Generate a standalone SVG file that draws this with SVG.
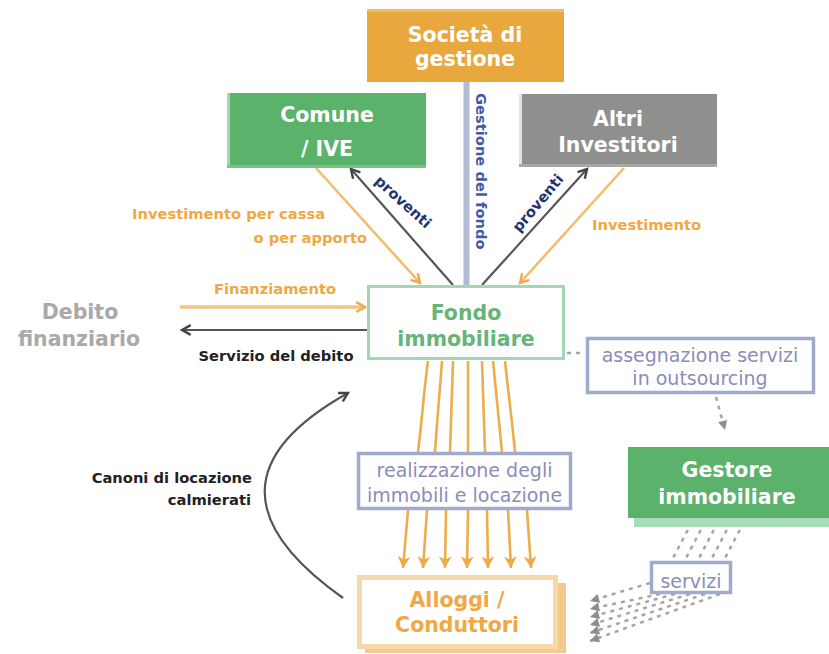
<svg xmlns="http://www.w3.org/2000/svg" width="829" height="654" viewBox="0 0 829 654">
<defs>
<style>
.big{font-family:"DejaVu Sans","Liberation Sans",sans-serif;font-weight:bold;font-size:20.5px;text-anchor:middle}
.sm{font-family:"DejaVu Sans","Liberation Sans",sans-serif;font-weight:bold;font-size:14.7px}
.reg{font-family:"DejaVu Sans","Liberation Sans",sans-serif;font-size:19px;fill:#8C8CB9;text-anchor:middle}
.w{fill:#ffffff}
.org{fill:#EFA845}
.dk{fill:#222222}
.navy{fill:#24346E}
.gline{stroke:#555555;stroke-width:2.2;fill:none}
.oline{stroke:#F2BE6C;stroke-width:2.6;fill:none}
.fan{stroke:#EDAD4B;stroke-width:2.6;fill:none}
.dash{stroke:#A5A5A5;stroke-width:2.5;fill:none;stroke-dasharray:4 5}
.bbox{fill:#ffffff;stroke:#A0AACB;stroke-width:3.5}
</style>
<marker id="chevO" viewBox="0 0 12 12" refX="10" refY="6" markerWidth="13" markerHeight="13" markerUnits="userSpaceOnUse" orient="auto">
<path d="M2,1.5 L10,6 L2,10.5" fill="none" stroke="#EDAA48" stroke-width="2.2"/>
</marker>
<marker id="chevG" viewBox="0 0 12 12" refX="10" refY="6" markerWidth="13" markerHeight="13" markerUnits="userSpaceOnUse" orient="auto">
<path d="M2,1.5 L10,6 L2,10.5" fill="none" stroke="#444444" stroke-width="2.2"/>
</marker>
<marker id="triO" viewBox="0 0 12 12" refX="11" refY="6" markerWidth="14" markerHeight="16" markerUnits="userSpaceOnUse" orient="auto">
<path d="M1,0.5 L11,6 L1,11.5 L4,6 Z" fill="#EDAA48"/>
</marker>
<marker id="triG" viewBox="0 0 12 12" refX="11" refY="6" markerWidth="11" markerHeight="12" markerUnits="userSpaceOnUse" orient="auto">
<path d="M1,1 L11,6 L1,11 Z" fill="#8E8E8E"/>
</marker>
</defs>
<rect width="829" height="654" fill="#ffffff"/>

<g id="connectors">
  <!-- gestione del fondo bar -->
  <line x1="466.5" y1="82" x2="466.5" y2="287" stroke="#B2BAD4" stroke-width="6"/>
  <!-- Comune <-> Fondo -->
  <line class="oline" x1="316" y1="168" x2="420" y2="283" marker-end="url(#chevO)"/>
  <line class="gline" x1="453" y1="285" x2="351" y2="169" marker-end="url(#chevG)"/>
  <!-- Altri <-> Fondo -->
  <line class="gline" x1="482" y1="285" x2="587" y2="169" marker-end="url(#chevG)"/>
  <line class="oline" x1="624" y1="168" x2="520" y2="283" marker-end="url(#chevO)"/>
  <!-- Debito -->
  <line x1="180" y1="307" x2="365" y2="307" stroke="#F3C57E" stroke-width="3.5" marker-end="url(#chevO)"/>
  <line class="gline" x1="367" y1="330" x2="182" y2="330" stroke-width="2.6" marker-end="url(#chevG)"/>
  <!-- Fondo -> assegnazione -->
  <line class="dash" x1="567" y1="353" x2="585" y2="353"/>
  <!-- assegnazione -> Gestore -->
  <path class="dash" d="M716,397 L725,430" marker-end="url(#triG)"/>
  <!-- fan Fondo -> realizzazione -->
  <path class="fan" d="M428,361 C424,390 422,420 418,452"/>
  <path class="fan" d="M442,361 C440,390 437,420 435,452"/>
  <path class="fan" d="M453,361 C452,390 451,420 450,452"/>
  <path class="fan" d="M468,361 L468,452"/>
  <path class="fan" d="M482,361 C483,390 484,420 485,452"/>
  <path class="fan" d="M493,361 C496,390 499,420 502,452"/>
  <path class="fan" d="M505,361 C508,390 512,420 515,452"/>
  <!-- realizzazione -> Alloggi -->
  <line class="fan" x1="408" y1="510" x2="403" y2="568" marker-end="url(#triO)"/>
  <line class="fan" x1="427" y1="510" x2="423" y2="568" marker-end="url(#triO)"/>
  <line class="fan" x1="446" y1="510" x2="445" y2="568" marker-end="url(#triO)"/>
  <line class="fan" x1="468" y1="510" x2="467" y2="568" marker-end="url(#triO)"/>
  <line class="fan" x1="487" y1="510" x2="488" y2="568" marker-end="url(#triO)"/>
  <line class="fan" x1="508" y1="510" x2="511" y2="568" marker-end="url(#triO)"/>
  <line class="fan" x1="527" y1="510" x2="531" y2="568" marker-end="url(#triO)"/>
  <!-- canoni curve -->
  <path class="gline" d="M343,598 Q184,485 348,393" marker-end="url(#chevG)"/>
  <!-- servizi dashed -->
  <line class="dash" x1="692" y1="522" x2="672" y2="560"/>
  <line class="dash" x1="705" y1="522" x2="685" y2="560"/>
  <line class="dash" x1="718" y1="522" x2="698" y2="560"/>
  <line class="dash" x1="731" y1="522" x2="711" y2="560"/>
  <line class="dash" x1="744" y1="522" x2="724" y2="560"/>
  <line class="dash" x1="650" y1="583" x2="590" y2="601" marker-end="url(#triG)"/>
  <line class="dash" x1="660" y1="594" x2="590" y2="609" marker-end="url(#triG)"/>
  <line class="dash" x1="675" y1="594" x2="590" y2="617" marker-end="url(#triG)"/>
  <line class="dash" x1="690" y1="594" x2="590" y2="625" marker-end="url(#triG)"/>
  <line class="dash" x1="705" y1="594" x2="590" y2="633" marker-end="url(#triG)"/>
  <line class="dash" x1="720" y1="594" x2="590" y2="641" marker-end="url(#triG)"/>
</g>

<g id="labels">
  <text class="sm org" x="132" y="219">Investimento per cassa</text>
  <text class="sm org" x="367" y="243" text-anchor="end">o per apporto</text>
  <text class="sm org" x="592" y="230">Investimento</text>
  <text class="sm org" x="275" y="294" text-anchor="middle">Finanziamento</text>
  <text class="sm dk" x="276" y="361" text-anchor="middle">Servizio del debito</text>
  <text class="sm dk" x="252" y="483" text-anchor="end">Canoni di locazione</text>
  <text class="sm dk" x="251" y="505" text-anchor="end">calmierati</text>
  <text class="sm navy" transform="translate(403,202) rotate(42)" x="0" y="5" text-anchor="middle">proventi</text>
  <text class="sm navy" transform="translate(538,203) rotate(-50)" x="0" y="5" text-anchor="middle">proventi</text>
  <text class="sm" fill="#3F5AA6" transform="translate(476,93) rotate(90)" x="0" y="0">Gestione del fondo</text>
  <text class="big" fill="#A9A9A9" x="80" y="319">Debito</text>
  <text class="big" fill="#A9A9A9" x="79" y="346">finanziario</text>
</g>

<g id="societa">
  <rect x="367" y="9" width="197" height="73" fill="#E9A83E"/>
  <rect x="367" y="9" width="197" height="3" fill="#EEBB68"/>
  <text class="big w" x="465" y="42">Società di</text>
  <text class="big w" x="465" y="66">gestione</text>
</g>

<g id="comune">
  <rect x="227" y="93" width="199" height="75" fill="#5BB26A"/>
  <rect x="227" y="93" width="3" height="75" fill="#A6D8B0"/>
  <rect x="227" y="165" width="199" height="3" fill="#7CC38A"/>
  <text class="big w" x="327" y="122">Comune</text>
  <text class="big w" x="327" y="156">/ IVE</text>
</g>

<g id="altri">
  <rect x="519" y="94" width="198" height="73" fill="#8F8F8D"/>
  <rect x="519" y="94" width="3" height="73" fill="#E2E2E2"/>
  <rect x="519" y="164" width="198" height="3" fill="#A8A8A6"/>
  <text class="big w" x="618" y="126">Altri</text>
  <text class="big w" x="618" y="152">Investitori</text>
</g>

<g id="fondo">
  <rect x="368.5" y="286.5" width="195" height="72" fill="#ffffff" stroke="#A3D6B3" stroke-width="3"/>
  <text class="big" fill="#67B478" x="466" y="320">Fondo</text>
  <text class="big" fill="#67B478" x="466" y="346">immobiliare</text>
</g>

<g id="assegnazione">
  <rect class="bbox" x="587.5" y="338.5" width="226" height="54"/>
  <text class="reg" x="700" y="362">assegnazione servizi</text>
  <text class="reg" x="700" y="385">in outsourcing</text>
</g>

<g id="gestore">
  <rect x="634" y="455" width="195" height="72" fill="#A9DCB9"/>
  <rect x="628" y="447" width="201" height="71" fill="#5BB26A"/>
  <text class="big w" x="727" y="477">Gestore</text>
  <text class="big w" x="727" y="504">immobiliare</text>
</g>

<g id="realizzazione">
  <rect class="bbox" x="358.5" y="453.5" width="212" height="55"/>
  <text class="reg" x="464.5" y="477">realizzazione degli</text>
  <text class="reg" x="464.5" y="502">immobili e locazione</text>
</g>

<g id="alloggi">
  <rect x="365" y="583" width="201" height="70" fill="#F3CA8C"/>
  <rect x="359.5" y="577.5" width="196" height="69" fill="#ffffff" stroke="#F6D9A8" stroke-width="5"/>
  <text class="big org" x="457" y="607">Alloggi /</text>
  <text class="big org" x="457" y="632">Conduttori</text>
</g>

<g id="servizi">
  <rect class="bbox" x="651.5" y="562.5" width="79" height="30"/>
  <text class="reg" x="691" y="588">servizi</text>
</g>
</svg>
